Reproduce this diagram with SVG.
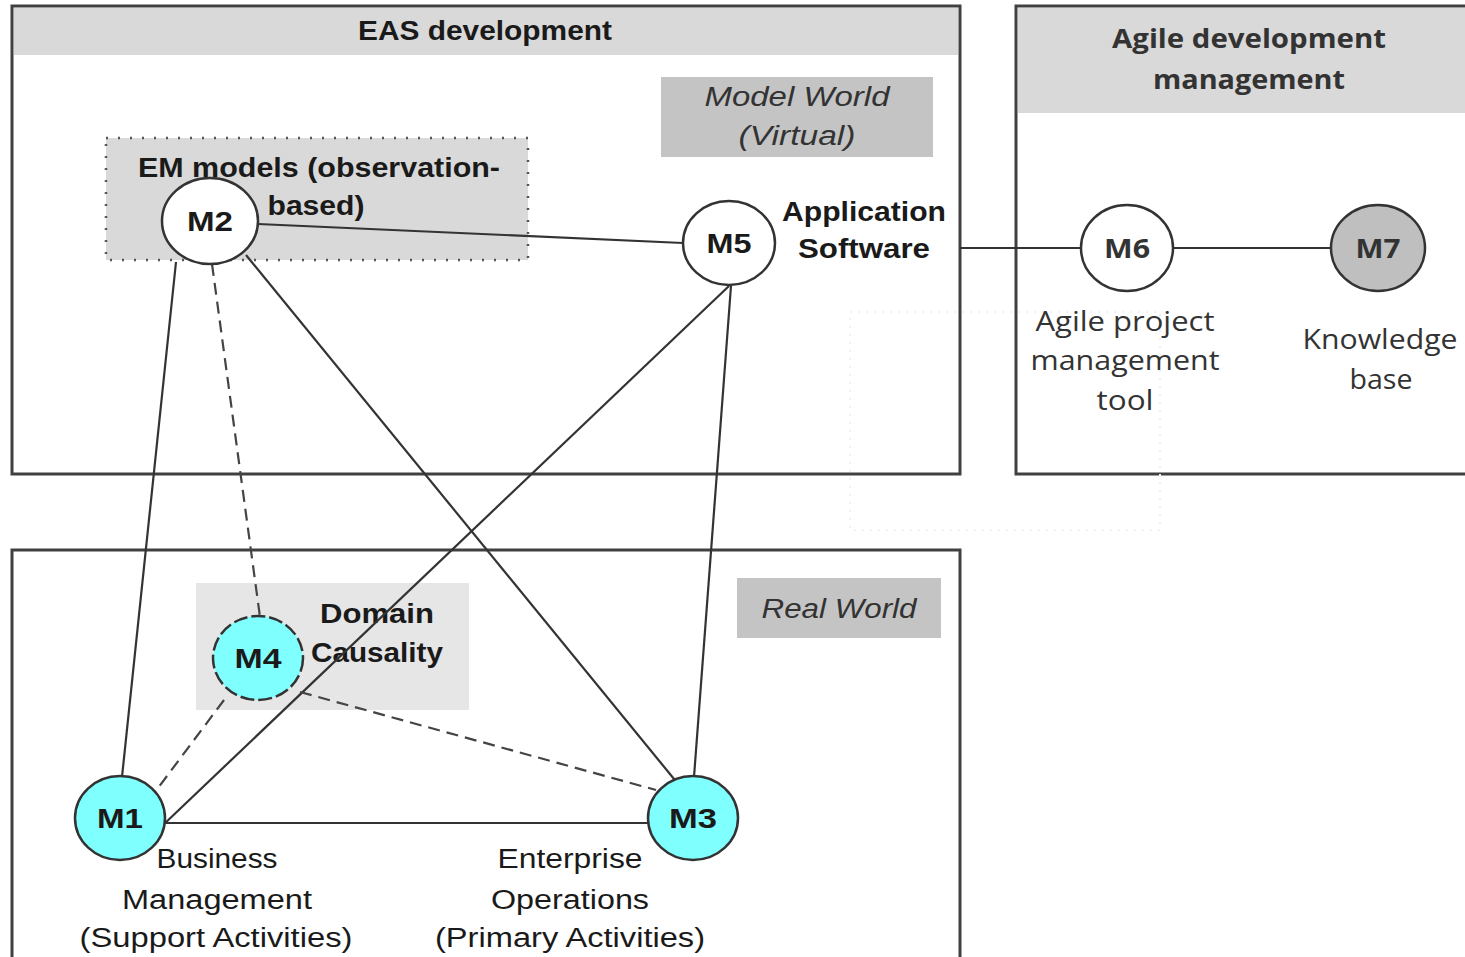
<svg xmlns="http://www.w3.org/2000/svg" width="1465" height="957" viewBox="0 0 1465 957">
<style>
.frame{fill:#ffffff;stroke:#404040;stroke-width:3}
.hdr{fill:#d9d9d9}
.t{font-family:"Liberation Sans",Arial,sans-serif;fill:#1a1a1a;text-anchor:middle;font-size:27px}
.b{font-weight:bold}
.it{font-style:italic;fill:#333}
.lbl{font-family:"Open Sans","Liberation Sans",sans-serif;fill:#333;text-anchor:middle;font-size:27px}
.nm{font-size:28px}
.node{stroke:#333;stroke-width:2.5}
.white{fill:#ffffff}
.cyan{fill:#80ffff}
.grey{fill:#bfbfbf}
.ln{stroke:#333;stroke-width:2.2;fill:none}
.dash{stroke:#444;stroke-width:2.2;fill:none;stroke-dasharray:12 7}
</style>
<g id="eas">
<rect class="frame" x="12" y="6" width="948" height="468"/>
<rect class="hdr" x="14" y="8" width="944" height="47"/>
<text class="t b" x="485" y="40" textLength="254" lengthAdjust="spacingAndGlyphs">EAS development</text>
<rect x="661" y="77" width="272" height="80" fill="#c4c4c4"/>
<text class="t it" x="797" y="106" textLength="185" lengthAdjust="spacingAndGlyphs">Model World</text>
<text class="t it" x="797" y="145" textLength="117" lengthAdjust="spacingAndGlyphs">(Virtual)</text>
<rect x="106" y="138" width="422" height="122" fill="#d9d9d9" stroke="#555" stroke-width="2.5" stroke-dasharray="2 10"/>
<text class="t b" x="319" y="177" textLength="362" lengthAdjust="spacingAndGlyphs">EM models (observation-</text>
<text class="t b" x="316" y="215" textLength="97" lengthAdjust="spacingAndGlyphs">based)</text>
</g>
<g id="agile">
<rect class="frame" x="1016" y="6" width="460" height="468"/>
<rect class="hdr" x="1018" y="8" width="447" height="105"/>
<text class="lbl b" x="1249" y="48" fill="#1a1a1a" textLength="274" lengthAdjust="spacingAndGlyphs">Agile development</text>
<text class="lbl b" x="1249" y="89" fill="#1a1a1a" textLength="192" lengthAdjust="spacingAndGlyphs">management</text>
</g>
<rect x="850" y="312" width="310" height="218" fill="none" stroke="#eef1f6" stroke-width="2" stroke-dasharray="2 6"/>
<g id="real">
<rect class="frame" x="12" y="550" width="948" height="420"/>
<rect x="737" y="578" width="204" height="60" fill="#c4c4c4"/>
<text class="t it" x="839" y="618" textLength="155" lengthAdjust="spacingAndGlyphs">Real World</text>
<rect x="196" y="583" width="273" height="127" fill="#e6e6e6"/>
<text class="t b" x="377" y="623" textLength="114" lengthAdjust="spacingAndGlyphs">Domain</text>
<text class="t b" x="377" y="662" textLength="132" lengthAdjust="spacingAndGlyphs">Causality</text>
</g>
<g id="connectors">
<line class="ln" x1="258" y1="224" x2="683" y2="243"/>
<line class="ln" x1="960" y1="248" x2="1081" y2="248"/>
<line class="ln" x1="1173" y1="248" x2="1331" y2="248"/>
<line class="ln" x1="176" y1="262" x2="122" y2="777"/>
<line class="dash" x1="212" y1="264" x2="260" y2="617"/>
<line class="ln" x1="246" y1="255" x2="683" y2="790"/>
<line class="ln" x1="729" y1="286" x2="162" y2="826"/>
<line class="ln" x1="731" y1="286" x2="694" y2="777"/>
<line class="dash" x1="224" y1="700" x2="155" y2="792"/>
<line class="dash" x1="300" y1="692" x2="656" y2="790"/>
<line class="ln" x1="165" y1="823" x2="648" y2="823" stroke-width="3"/>
</g>
<g id="M2"><ellipse class="node white" cx="210" cy="221" rx="48" ry="43"/><text class="t b nm" x="210" y="231" textLength="46" lengthAdjust="spacingAndGlyphs">M2</text></g>
<g id="M5"><ellipse class="node white" cx="729" cy="243" rx="46" ry="42"/><text class="t b nm" x="729" y="253" textLength="45" lengthAdjust="spacingAndGlyphs">M5</text>
<text class="t b" x="864" y="221" textLength="164" lengthAdjust="spacingAndGlyphs">Application</text><text class="t b" x="864" y="258" textLength="132" lengthAdjust="spacingAndGlyphs">Software</text></g>
<g id="M6"><ellipse class="node white" cx="1127" cy="248" rx="46" ry="43"/><text class="lbl b" x="1127" y="258" font-size="26" textLength="46" lengthAdjust="spacingAndGlyphs">M6</text>
<text class="lbl" x="1125" y="331" textLength="179" lengthAdjust="spacingAndGlyphs">Agile project</text><text class="lbl" x="1125" y="370" textLength="189" lengthAdjust="spacingAndGlyphs">management</text><text class="lbl" x="1125" y="410" textLength="57" lengthAdjust="spacingAndGlyphs">tool</text></g>
<g id="M7"><ellipse class="node grey" cx="1378" cy="248" rx="47" ry="43"/><text class="lbl b" x="1378" y="258" font-size="26" textLength="45" lengthAdjust="spacingAndGlyphs">M7</text>
<text class="lbl" x="1380" y="349" textLength="155" lengthAdjust="spacingAndGlyphs">Knowledge</text><text class="lbl" x="1381" y="389" textLength="63" lengthAdjust="spacingAndGlyphs">base</text></g>
<g id="M4"><ellipse class="node cyan" cx="258" cy="658" rx="45" ry="42" stroke-dasharray="14 4"/><text class="t b nm" x="258" y="668" textLength="47" lengthAdjust="spacingAndGlyphs">M4</text></g>
<g id="M1"><ellipse class="node cyan" cx="120" cy="818" rx="45" ry="42"/><text class="t b nm" x="120" y="828" textLength="46" lengthAdjust="spacingAndGlyphs">M1</text>
<text class="t" x="217" y="868" textLength="121" lengthAdjust="spacingAndGlyphs">Business</text><text class="t" x="217" y="909" textLength="190" lengthAdjust="spacingAndGlyphs">Management</text><text class="t" x="216" y="947" textLength="273" lengthAdjust="spacingAndGlyphs">(Support Activities)</text></g>
<g id="M3"><ellipse class="node cyan" cx="693" cy="818" rx="45" ry="42"/><text class="t b nm" x="693" y="828" textLength="48" lengthAdjust="spacingAndGlyphs">M3</text>
<text class="t" x="570" y="868" textLength="145" lengthAdjust="spacingAndGlyphs">Enterprise</text><text class="t" x="570" y="909" textLength="158" lengthAdjust="spacingAndGlyphs">Operations</text><text class="t" x="570" y="947" textLength="270" lengthAdjust="spacingAndGlyphs">(Primary Activities)</text></g>
</svg>
